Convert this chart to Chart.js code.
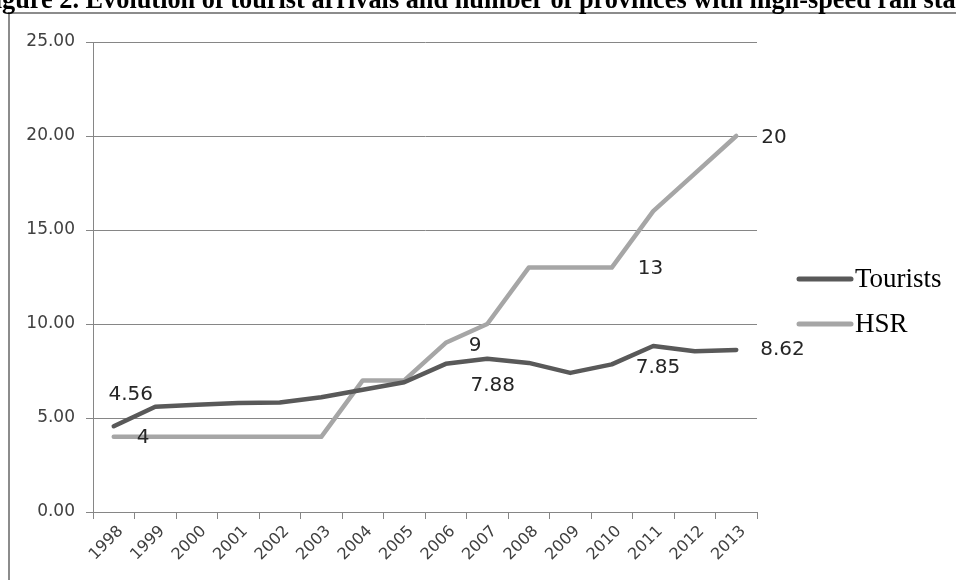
<!DOCTYPE html>
<html>
<head>
<meta charset="utf-8">
<script src="https://cdn.jsdelivr.net/npm/chart.js@4.4.1/dist/chart.umd.min.js"></script>
<style>
  html, body { margin: 0; padding: 0; background: #fff; }
  #wrap { width: 956px; height: 580px; }
</style>
</head>
<body>
<div id="wrap"><canvas id="c" width="956" height="580"></canvas></div>
<script>
const years = ['1998', '1999', '2000', '2001', '2002', '2003', '2004', '2005', '2006', '2007', '2008', '2009', '2010', '2011', '2012', '2013'];
const tourists = [4.56, 5.6, 5.7, 5.8, 5.82, 6.1, 6.5, 6.9, 7.88, 8.15, 7.93, 7.4, 7.85, 8.83, 8.55, 8.62];
const hsr = [4, 4, 4, 4, 4, 4, 7, 7, 9, 10, 13, 13, 13, 16, 18, 20];
const yTicks = [0, 5, 10, 15, 20, 25];

const titleText = 'Figure 2. Evolution of tourist arrivals and number of provinces with high-speed rail stations';

// which points get a value label, and where it sits relative to the point
const pointLabels = [
  { ds: 0, i: 0, dx: 17, dy: -31, align: 'center', digits: 2 },
  { ds: 0, i: 8, dx: 47, dy: 22, align: 'center', digits: 2 },
  { ds: 0, i: 12, dx: 24, dy: 3, align: 'left', digits: 2 },
  { ds: 0, i: 15, dx: 24, dy: 0, align: 'left', digits: 2 },
  { ds: 1, i: 0, dx: 23, dy: 1, align: 'left', digits: 0 },
  { ds: 1, i: 8, dx: 23, dy: 3, align: 'left', digits: 0 },
  { ds: 1, i: 12, dx: 26, dy: 1, align: 'left', digits: 0 },
  { ds: 1, i: 15, dx: 25, dy: 2, align: 'left', digits: 0 }
];

const axisGray = '#868686';

const decorPlugin = {
  id: 'decor',
  beforeDraw(chart) {
    const c = chart.ctx;
    c.save();
    c.fillStyle = '#fff';
    c.fillRect(0, 0, chart.width, chart.height);
    // outer frame (only top and left visible)
    c.strokeStyle = '#8c8c8c';
    c.lineWidth = 2;
    c.beginPath();
    c.moveTo(9, 600);
    c.lineTo(9, 13);
    c.lineTo(960, 13);
    c.stroke();
    c.restore();
  },
  afterDraw(chart) {
    const c = chart.ctx;
    c.save();
    // title, clipped at both sides like the source
    c.font = 'bold 100px "Liberation Serif"';
    const visible = titleText.slice(2, titleText.indexOf('rail sta') + 8);
    const size = 100 * 954 / c.measureText(visible).width;
    c.font = 'bold ' + size.toFixed(2) + 'px "Liberation Serif"';
    const fi = c.measureText('Fi').width;
    c.fillStyle = '#000';
    c.textBaseline = 'alphabetic';
    c.textAlign = 'left';
    c.fillText(titleText, 2 - fi, 8);

    // value labels
    c.font = '20px "DejaVu Sans"';
    c.fillStyle = '#262626';
    c.textBaseline = 'middle';
    pointLabels.forEach(l => {
      const el = chart.getDatasetMeta(l.ds).data[l.i];
      const v = chart.data.datasets[l.ds].data[l.i];
      c.textAlign = l.align;
      c.fillText(v.toFixed(l.digits), el.x + l.dx, el.y + l.dy);
    });

    // legend
    const ly = [279, 324];
    chart.data.datasets.forEach((ds, k) => {
      c.strokeStyle = ds.borderColor;
      c.lineWidth = 5;
      c.lineCap = 'round';
      c.beginPath();
      c.moveTo(799, ly[k]);
      c.lineTo(851, ly[k]);
      c.stroke();
      c.fillStyle = '#000';
      c.font = '27px "Liberation Serif"';
      c.textAlign = 'left';
      c.textBaseline = 'middle';
      c.fillText(ds.label, 855, ly[k] + 1);
    });
    c.restore();
  }
};

new Chart(document.getElementById('c'), {
  type: 'line',
  data: {
    labels: years,
    datasets: [
      {
        label: 'Tourists',
        data: tourists,
        borderColor: '#595959',
        backgroundColor: '#595959',
        borderWidth: 4.5,
        borderCapStyle: 'round',
        borderJoinStyle: 'round',
        pointRadius: 0,
        tension: 0
      },
      {
        label: 'HSR',
        data: hsr,
        borderColor: '#a6a6a6',
        backgroundColor: '#a6a6a6',
        borderWidth: 4.5,
        borderCapStyle: 'round',
        borderJoinStyle: 'round',
        pointRadius: 0,
        tension: 0
      }
    ]
  },
  options: {
    responsive: false,
    animation: false,
    layout: { padding: { top: 42, right: 199, bottom: 0, left: 0 } },
    plugins: { legend: { display: false }, tooltip: { enabled: false }, title: { display: false } },
    scales: {
      x: {
        offset: true,
        grid: { offset: true, drawOnChartArea: false, drawTicks: true, tickLength: 7, color: axisGray },
        border: { color: axisGray, width: 1 },
        ticks: {
          minRotation: 45, maxRotation: 45, autoSkip: false, padding: 3, labelOffset: 7,
          color: '#404040', font: { family: 'DejaVu Sans', size: 16 }
        },
        afterFit(scale) { scale.height = 68; }
      },
      y: {
        min: 0,
        max: 25,
        afterBuildTicks(scale) { scale.ticks = yTicks.map(v => ({ value: v })); },
        grid: { color: axisGray, tickLength: 7, lineWidth: 1 },
        border: { color: axisGray, width: 1 },
        ticks: {
          padding: 11,
          color: '#404040',
          font: { family: 'DejaVu Sans', size: 17 },
          callback: v => Number(v).toFixed(2)
        },
        afterFit(scale) { scale.width = 93; }
      }
    }
  },
  plugins: [decorPlugin]
});
</script>
</body>
</html>
